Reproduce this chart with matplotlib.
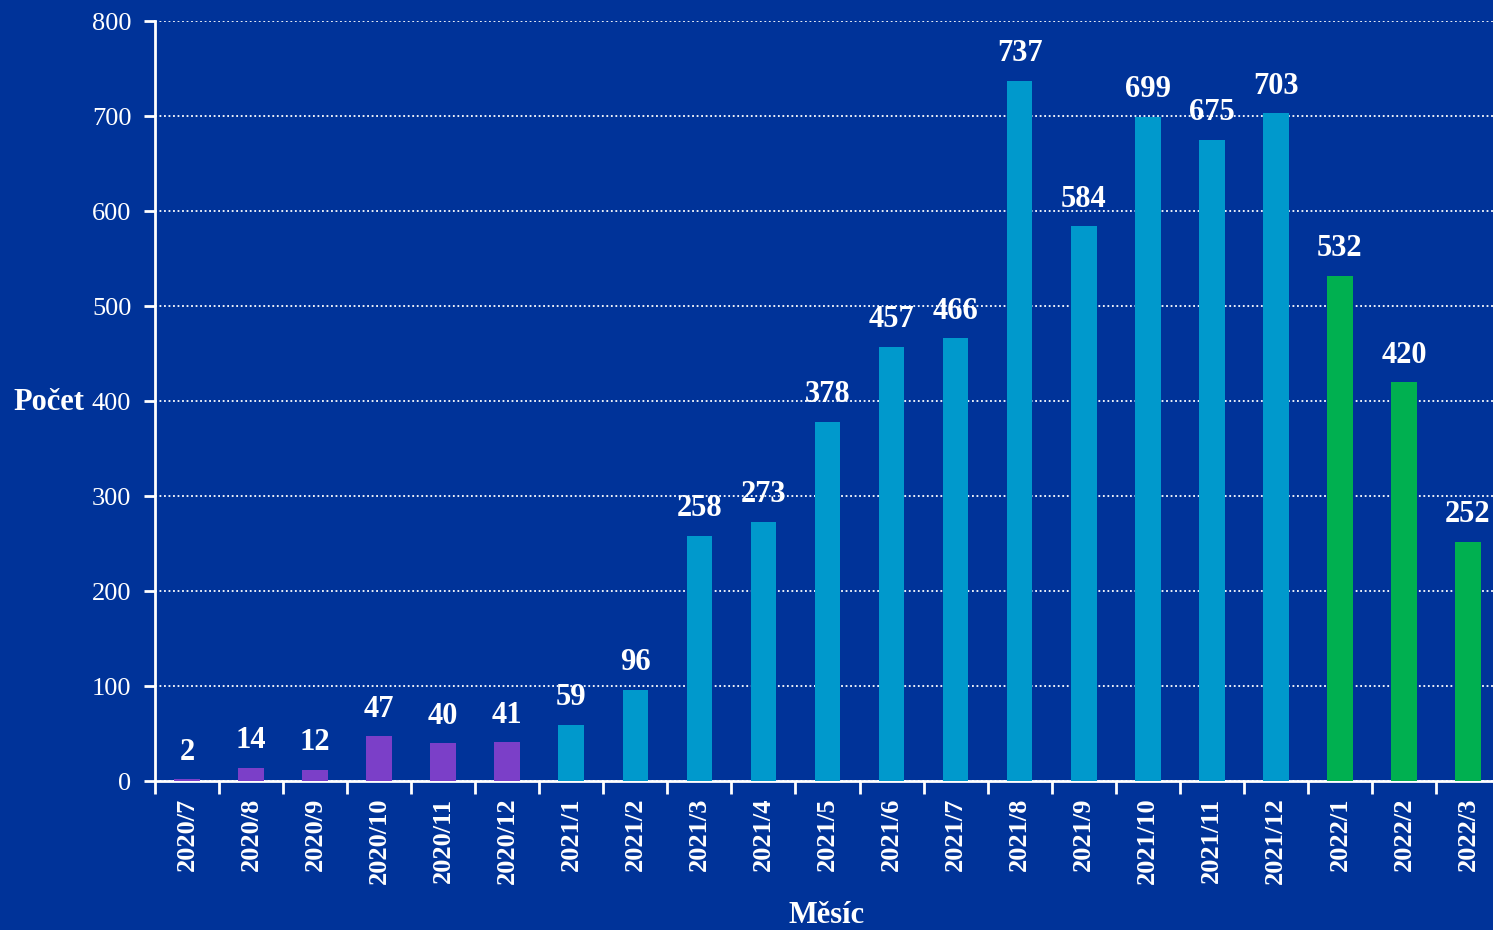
import numpy as np
import matplotlib.pyplot as plt

months = ['2020/7', '2020/8', '2020/9', '2020/10', '2020/11', '2020/12',
          '2021/1', '2021/2', '2021/3', '2021/4', '2021/5', '2021/6',
          '2021/7', '2021/8', '2021/9', '2021/10', '2021/11', '2021/12',
          '2022/1', '2022/2', '2022/3']
counts = [2, 14, 12, 47, 40, 41,
          59, 96, 258, 273, 378, 457, 466, 737, 584, 699, 675, 703,
          532, 420, 252]
years = [m.split('/')[0] for m in months]

year_colors = {'2020': '#7b3fc8', '2021': '#0099cc', '2022': '#00b050'}
bg = '#003399'

plt.rcParams['font.family'] = ['Liberation Serif', 'DejaVu Serif']

fig = plt.figure(figsize=(14.93, 9.3), dpi=100, facecolor=bg)
ax = fig.add_axes([0.1038, 0.1602, 0.9009, 0.8172])
ax.set_facecolor(bg)

x = np.arange(len(months))
colors = [year_colors[y] for y in years]
ax.bar(x, counts, width=0.4, color=colors, zorder=3)

for xi, v in zip(x, counts):
    ax.annotate(str(v), (xi, v), xytext=(0, 9), textcoords='offset points',
                ha='center', va='bottom', color='white', fontsize=22,
                fontweight='bold', zorder=4)

ax.set_xlim(-0.5, len(months) - 0.5)
ax.set_ylim(0, 800)
ax.set_yticks(range(0, 801, 100))
ax.yaxis.grid(True, color='white', linestyle=(0, (1, 1.5)), linewidth=1.3, zorder=1)

ax.set_xticks(x)
ax.set_xticklabels(months, rotation=90, color='white', fontsize=19, fontweight='bold')
ax.set_xticks(np.arange(-0.5, len(months), 1), minor=True)
ax.tick_params(axis='x', which='major', length=0, pad=12)
ax.tick_params(axis='x', which='minor', length=9, width=2, color='white', direction='out')
ax.tick_params(axis='y', length=8, width=2, color='white', labelcolor='white',
               labelsize=19, pad=9)

for side in ['top', 'right']:
    ax.spines[side].set_visible(False)
for side in ['left', 'bottom']:
    ax.spines[side].set_color('white')
    ax.spines[side].set_linewidth(2)

fig.text(0.0087, 1 - 402 / 930, 'Počet', color='white', fontsize=22,
         fontweight='bold', ha='left', va='center')
fig.text(827 / 1493, 1 - 915 / 930, 'Měsíc', color='white', fontsize=22,
         fontweight='bold', ha='center', va='center')

fig.savefig('out.png', dpi=100, facecolor=bg)
